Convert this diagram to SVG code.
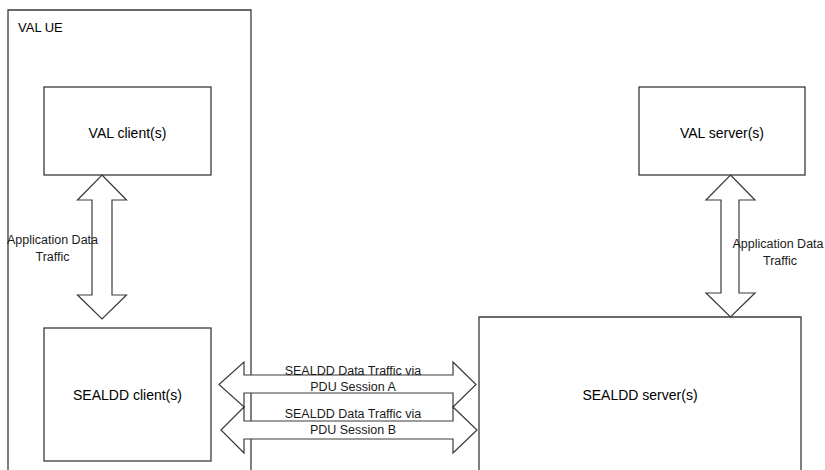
<svg xmlns="http://www.w3.org/2000/svg" width="825" height="470" viewBox="0 0 825 470">
  <style>
    .box { fill: #ffffff; stroke: #3a3a3a; stroke-width: 1.3; }
    .arrow { fill: #ffffff; stroke: #3a3a3a; stroke-width: 1.2; stroke-linejoin: miter; }
    .lbl { font-family: "Liberation Sans", Arial, sans-serif; font-size: 14px; fill: #000000; text-anchor: middle; }
    .title { font-family: "Liberation Sans", Arial, sans-serif; font-size: 13px; fill: #000000; }
    .small { font-family: "Liberation Sans", Arial, sans-serif; font-size: 12.5px; fill: #1a1a1a; text-anchor: middle; }
  </style>
  <rect x="0" y="0" width="825" height="470" fill="#ffffff"/>

  <g id="val-ue">
    <path class="box" d="M8,472 V10 H251 V472"/>
    <text class="title" x="18" y="32">VAL UE</text>
  </g>

  <g id="val-client">
    <rect class="box" x="44" y="87" width="167" height="88"/>
    <text class="lbl" x="127.5" y="138">VAL client(s)</text>
  </g>

  <g id="sealdd-client">
    <rect class="box" x="44" y="328" width="167" height="133"/>
    <text class="lbl" x="127.5" y="400">SEALDD client(s)</text>
  </g>

  <g id="val-server">
    <rect class="box" x="639" y="87" width="166" height="88"/>
    <text class="lbl" x="722" y="138">VAL server(s)</text>
  </g>

  <g id="sealdd-server">
    <path class="box" d="M479,472 V317 H801 V472"/>
    <text class="lbl" x="640" y="400">SEALDD server(s)</text>
  </g>

  <g id="connectors">
    <polygon class="arrow" points="102,175 126.5,200 112,200 112,295 126.5,295 102,319 77.5,295 92,295 92,200 77.5,200"/>
    <polygon class="arrow" points="730.5,175 755,200 739,200 739,293 755,293 730.5,317 706,293 721,293 721,200 706,200"/>
    <polygon class="arrow" points="219,384.5 244,362 244,375 453,375 453,362 476,384.5 453,407 453,393 244,393 244,407"/>
    <polygon class="arrow" points="221,430 244,407 244,421 453,421 453,407 477,430 453,453 453,439 244,439 244,453"/>

    <text class="small" x="52.5" y="244">Application Data</text>
    <text class="small" x="52.5" y="261">Traffic</text>
    <text class="small" x="778" y="248">Application Data</text>
    <text class="small" x="780" y="265">Traffic</text>
    <text class="small" x="353" y="375">SEALDD Data Traffic via</text>
    <text class="small" x="353" y="391">PDU Session A</text>
    <text class="small" x="353" y="418">SEALDD Data Traffic via</text>
    <text class="small" x="353" y="434">PDU Session B</text>
  </g>
</svg>
